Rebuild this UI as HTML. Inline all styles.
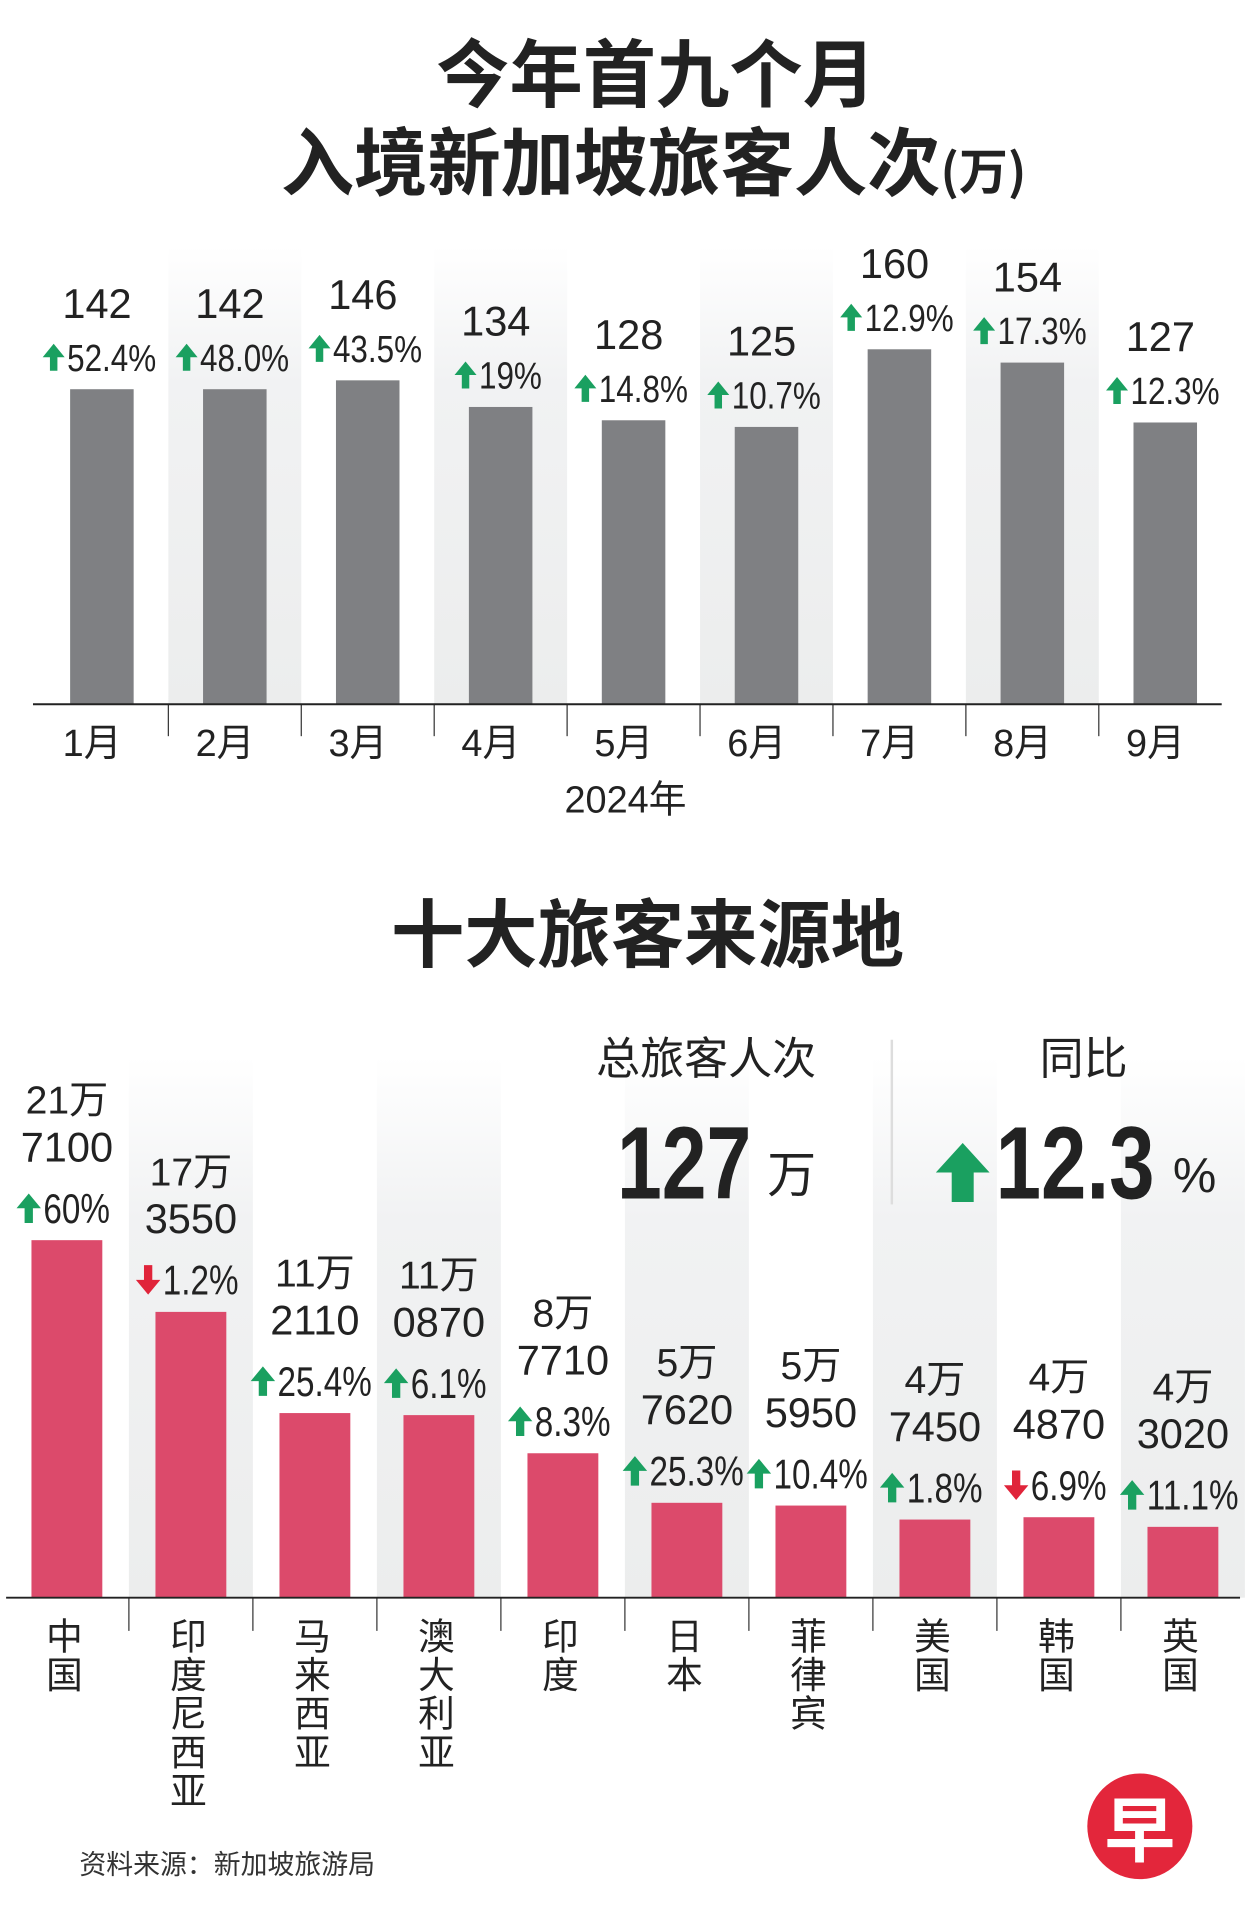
<!DOCTYPE html>
<html><head><meta charset="utf-8">
<style>
html,body{margin:0;padding:0;background:#fff;}
body{width:1251px;height:1926px;overflow:hidden;position:relative;}
#wrap{position:absolute;left:0;top:0;width:1024px;height:1567px;transform:scale(1.2217,1.229);transform-origin:0 0;font-family:"Liberation Sans","Noto Sans CJK SC",sans-serif;color:#222;}
.t{position:absolute;white-space:nowrap;}
.c{transform:translateX(-50%);}
</style></head>
<body>
<div id="wrap">
<div class="t c" style="left:537px;top:22px;font-size:60px;font-weight:bold;font-family:'Noto Sans CJK SC',sans-serif;line-height:70px;">今年首九个月</div>
<div class="t c" style="left:535px;top:94px;font-size:60px;font-weight:bold;font-family:'Noto Sans CJK SC',sans-serif;line-height:70px;">入境新加坡旅客人次<span style="font-size:40px;">(万)</span></div>
<svg id="top" width="1024" height="680" style="position:absolute;left:0;top:0"></svg>
<div class="t c" style="left:530px;top:722px;font-size:60px;font-weight:bold;font-family:'Noto Sans CJK SC',sans-serif;line-height:70px;">十大旅客来源地</div>
<svg id="bot" width="1024" height="1567" style="position:absolute;left:0;top:0"></svg>
<div class="t c" style="left:578px;top:840px;font-size:36px;line-height:44px;">总旅客人次</div>
<div class="t" style="left:628px;top:933px;font-size:40px;line-height:48px;">万</div>
<div style="position:absolute;left:729px;top:846px;width:2px;height:134px;background:#ddd;"></div>
<div class="t c" style="left:887px;top:840px;font-size:36px;line-height:44px;">同比</div>
<svg style="position:absolute;left:766px;top:930px" width="44" height="48"><polygon points="22,0 44,24 31,24 31,48 13,48 13,24 0,24" fill="#1aa060"/></svg>
<svg width="1024" height="1000" style="position:absolute;left:0;top:0">
<text x="505" y="975" font-size="84" font-weight="bold" textLength="110" lengthAdjust="spacingAndGlyphs" fill="#222">127</text>
<text x="815" y="975" font-size="84" font-weight="bold" textLength="130" lengthAdjust="spacingAndGlyphs" fill="#222">12.3</text>
</svg>
<div class="t" style="left:960px;top:933px;font-size:40px;line-height:48px;">%</div>
<div class="t" style="left:65px;top:1504px;font-size:22px;line-height:28px;color:#333;">资料来源：新加坡旅游局</div>
<div style="position:absolute;left:890px;top:1443px;width:86px;height:86px;border-radius:50%;background:#e3263b;color:#fff;font-size:58px;font-weight:bold;text-align:center;line-height:84px;font-family:'Noto Sans CJK SC',sans-serif;">早</div>
</div>
<script>
const months=['1月','2月','3月','4月','5月','6月','7月','8月','9月'];
const monthVals=[142,142,146,134,128,125,160,154,127];
const monthPct=['52.4%','48.0%','43.5%','19%','14.8%','10.7%','12.9%','17.3%','12.3%'];
const countries=['中国','印度尼西亚','马来西亚','澳大利亚','印度','日本','菲律宾','美国','韩国','英国'];
const countryVals=[217100,173550,112110,110870,87710,57620,55950,47450,48870,43020];
const countryWan=['21万','17万','11万','11万','8万','5万','5万','4万','4万','4万'];
const countryRest=['7100','3550','2110','0870','7710','7620','5950','7450','4870','3020'];
const countryPct=['60%','1.2%','25.4%','6.1%','8.3%','25.3%','10.4%','1.8%','6.9%','11.1%'];
const countryUp=[true,false,true,true,true,true,true,true,false,true];

const NS='http://www.w3.org/2000/svg';
function mk(p,tag,a){const e=document.createElementNS(NS,tag);for(const k in a)e.setAttribute(k,a[k]);p.appendChild(e);return e;}
function arrow(p,x,y,w,h,up){const pts=up?
 [[x,y],[x+w/2,y+h*0.5],[x+w*0.17,y+h*0.5],[x+w*0.17,y+h],[x-w*0.17,y+h],[x-w*0.17,y+h*0.5],[x-w/2,y+h*0.5]]:
 [[x,y+h],[x+w/2,y+h*0.5],[x+w*0.17,y+h*0.5],[x+w*0.17,y],[x-w*0.17,y],[x-w*0.17,y+h*0.5],[x-w/2,y+h*0.5]];
 return mk(p,'polygon',{points:pts.map(q=>q.join(',')).join(' '),fill:up?'#1aa060':'#e0243a'});}
function pctGroup(p,cx,baseY,txt,fs,factor,up,aw,ah){
 const t=mk(p,'text',{x:0,y:baseY,'font-size':fs,fill:'#222'});t.textContent=txt;
 
 
 const L=t.getComputedTextLength()*factor;
 t.setAttribute('textLength',L);t.setAttribute('lengthAdjust','spacingAndGlyphs');
 const total=aw+2+L,start=cx-total/2;
 t.setAttribute('x',start+aw+2);
 const a=arrow(p,start+aw/2,baseY-ah,aw,ah,up);
 
 
}

// top chart
const T=document.getElementById('top');
const base1=573,k1=1.805,x0=28,step1=108.8,bw1=52;
const xm=i=>x0+step1*i+step1/2+1;
const ym=v=>base1-v*k1;
const defs=mk(T,'defs',{});
const g=mk(defs,'linearGradient',{id:'bg',x1:0,y1:0,x2:0,y2:1});
mk(g,'stop',{offset:0,'stop-color':'#fff'});mk(g,'stop',{offset:0.3,'stop-color':'#f1f2f3'});mk(g,'stop',{offset:1,'stop-color':'#eceded'});
months.forEach((m,i)=>{
 if(i%2===1){const b=mk(T,'rect',{x:xm(i)-step1/2,y:200,width:step1,height:base1-200,fill:'url(#bg)'});
 
 }
});
months.forEach((m,i)=>{
 const cx=xm(i),y=ym(monthVals[i]);
 const r=mk(T,'rect',{x:cx-bw1/2,y:y,width:bw1,height:base1-y,fill:'#7f8083'});
 
 
 const v=mk(T,'text',{x:cx-4,y:y-58,'text-anchor':'middle','font-size':34,fill:'#222'});v.textContent=monthVals[i];
 
 
 pctGroup(T,cx-2,y-15,monthPct[i],31,0.83,true,18,22);
 const l=mk(T,'text',{x:cx-8,y:615,'text-anchor':'middle','font-size':31,fill:'#222'});l.textContent=m;
 
 
 if(i>0){const d=mk(T,'line',{x1:cx-step1/2,x2:cx-step1/2,y1:base1,y2:599,stroke:'#333','stroke-width':1});
 
 }
});
const ax=mk(T,'line',{x1:27,x2:1000,y1:base1,y2:base1,stroke:'#222','stroke-width':1.6});


const yr=mk(T,'text',{x:512,y:661,'text-anchor':'middle','font-size':31,fill:'#222'});yr.textContent='2024年';



// bottom chart
const B=document.getElementById('bot');
const base2=1300,k2=0.00134,step2=101.5,bw2=58,x02=4;
const xc=i=>x02+step2*i+step2/2;
const yc=v=>base2-v*k2;
const d2=mk(B,'defs',{});
const g2=mk(d2,'linearGradient',{id:'bg2',x1:0,y1:0,x2:0,y2:1});
mk(g2,'stop',{offset:0,'stop-color':'#fff'});mk(g2,'stop',{offset:0.3,'stop-color':'#f1f2f3'});mk(g2,'stop',{offset:1,'stop-color':'#eceded'});
countries.forEach((c,i)=>{
 if(i%2===1){const b=mk(B,'rect',{x:xc(i)-step2/2,y:860,width:step2,height:base2-860,fill:'url(#bg2)'});
 
 }
});
countries.forEach((c,i)=>{
 const cx=xc(i),y=yc(countryVals[i]);
 const r=mk(B,'rect',{x:cx-bw2/2,y:y,width:bw2,height:base2-y,fill:'#dc4a6b'});
 
 
 const w=mk(B,'text',{x:cx,y:y-103,'text-anchor':'middle','font-size':32,fill:'#222'});w.textContent=countryWan[i];
 
 
 const rr=mk(B,'text',{x:cx,y:y-64,'text-anchor':'middle','font-size':34,fill:'#222'});rr.textContent=countryRest[i];
 
 
 pctGroup(B,cx-3,y-14,countryPct[i],34,0.8,countryUp[i],20,24);
 [...c].forEach((ch,j)=>{const l=mk(B,'text',{x:cx-2,y:1342+j*31.5,'text-anchor':'middle','font-size':30,fill:'#222'});l.textContent=ch;
 
 });
 if(i>0){const d=mk(B,'line',{x1:cx-step2/2,x2:cx-step2/2,y1:base2,y2:1327,stroke:'#333','stroke-width':1});
 
 }
});
const ax2=mk(B,'line',{x1:5,x2:1015,y1:base2,y2:base2,stroke:'#222','stroke-width':1.6});


</script>
</body></html>
